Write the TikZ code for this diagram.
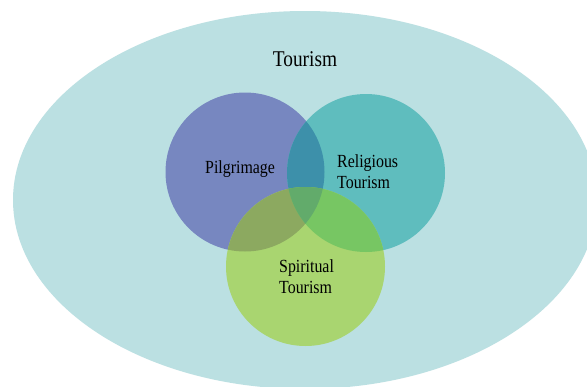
\documentclass[tikz,border=0pt]{standalone}
\usepackage{fontspec}
\setmainfont{Liberation Serif}
\definecolor{tourbg}{HTML}{BBE0E2}
\definecolor{pilgcol}{HTML}{7787C0}
\definecolor{relcol}{HTML}{5FBDBE}
\definecolor{spircol}{HTML}{A9D570}
\definecolor{pilgrel}{HTML}{3D90AA}
\definecolor{pilgspir}{HTML}{8CA960}
\definecolor{relspir}{HTML}{77C663}
\definecolor{allthree}{HTML}{62AB6B}
\tikzset{
  setlabel/.style={font=\fontsize{18.5}{21}\selectfont, align=left, anchor=base west, xscale=0.86, inner sep=0pt},
  titlelabel/.style={font=\fontsize{22.5}{26}\selectfont, anchor=base, xscale=0.86, inner sep=0pt}
}
\begin{document}
\begin{tikzpicture}[x=1pt,y=-1pt]
  \useasboundingbox (0,0) rectangle (587,386);
  \fill[white] (0,0) rectangle (587,386);
  \clip (0,0) rectangle (587,386);
  % ---------- outer set ----------
  \fill[tourbg] (305,200) ellipse [x radius=292, y radius=189];
  \coordinate (pc) at (245,172);
  \coordinate (rc) at (366,173);
  \coordinate (sc) at (305.5,266.5);
  % ---------- three circles ----------
  \fill[pilgcol] (pc) circle [radius=79.5];
  \fill[relcol]  (rc) circle [radius=79];
  \fill[spircol] (sc) circle [radius=79.5];
  % ---------- pairwise overlaps ----------
  \begin{scope}
    \clip (pc) circle [radius=79.5];
    \fill[pilgrel] (rc) circle [radius=79];
    \fill[pilgspir] (sc) circle [radius=79.5];
  \end{scope}
  \begin{scope}
    \clip (rc) circle [radius=79];
    \fill[relspir] (sc) circle [radius=79.5];
  \end{scope}
  % ---------- centre overlap ----------
  \begin{scope}
    \clip (pc) circle [radius=79.5];
    \clip (rc) circle [radius=79];
    \fill[allthree] (sc) circle [radius=79.5];
  \end{scope}
  % ---------- labels (base = last line) ----------
  \node[titlelabel] (tourism) at (305,66) {Tourism};
  \node[setlabel] (pilgrimage) at (205,173) {Pilgrimage};
  \node[setlabel] (religious) at (337,188) {Religious\\Tourism};
  \node[setlabel] (spiritual) at (279,293) {Spiritual\\Tourism};
\end{tikzpicture}
\end{document}
